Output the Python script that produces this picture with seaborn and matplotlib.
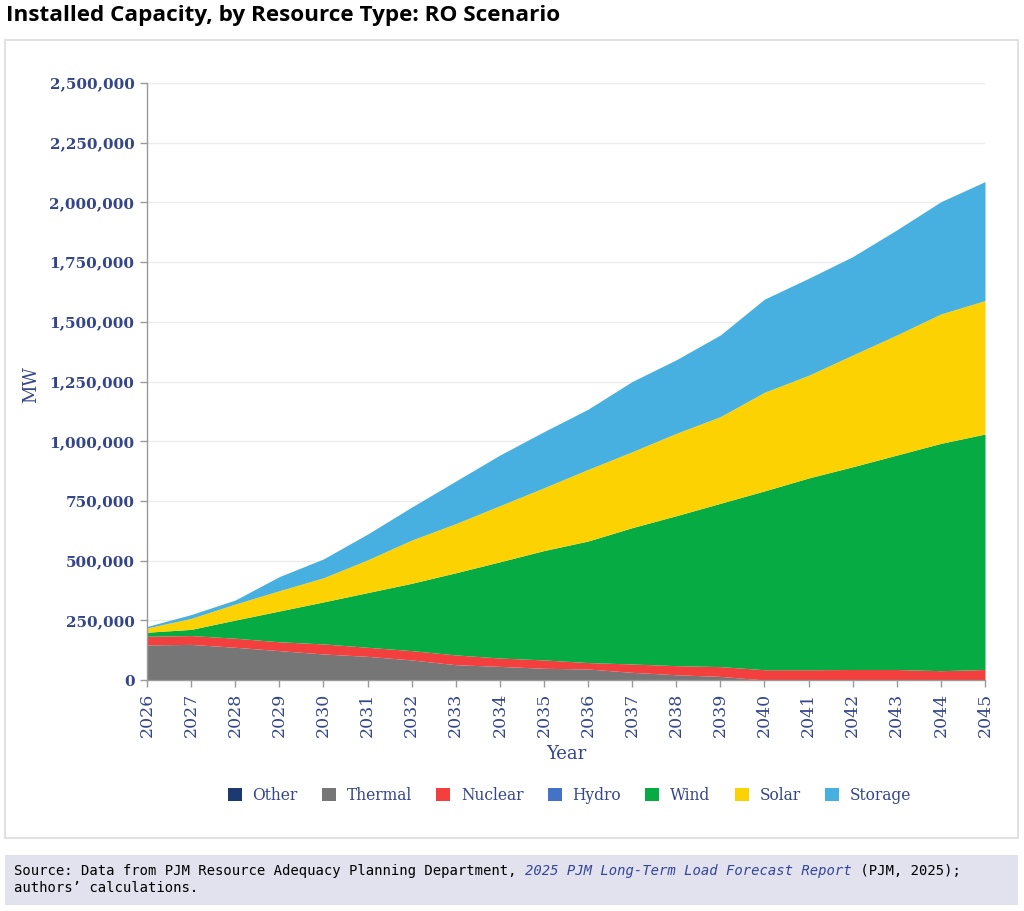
import pandas as pd
import numpy as np
import seaborn as sns
import matplotlib.pyplot as plt
from matplotlib.patches import Patch, Rectangle
from matplotlib.ticker import FuncFormatter

# values (MW per resource, stacked)
years = list(range(2026, 2046))
other = [0] * 20
thermal = [147000, 149000, 137000, 123000, 109000, 99000, 84000, 64000, 57000, 49000,
           46000, 32000, 22000, 15000, 0, 0, 0, 0, 0, 0]
nuclear = [36000, 37000, 38000, 37000, 42000, 38000, 39000, 41000, 35000, 35000,
           27000, 35000, 38000, 41000, 43000, 43000, 44000, 44000, 39000, 44000]
hydro = [0] * 20
wind = [17000, 26000, 76000, 129000, 176000, 229000, 282000, 344000, 403000, 458000,
        509000, 571000, 628000, 684000, 749000, 803000, 849000, 898000, 952000, 986000]
solar = [18000, 46000, 67000, 85000, 101000, 137000, 181000, 206000, 235000, 263000,
         300000, 318000, 345000, 363000, 413000, 430000, 468000, 503000, 542000, 559000]
storage = [6000, 16000, 17000, 59000, 79000, 108000, 138000, 178000, 212000, 235000,
           252000, 294000, 308000, 342000, 390000, 406000, 412000, 440000, 470000, 498000]

resources = ["Other", "Thermal", "Nuclear", "Hydro", "Wind", "Solar", "Storage"]
colors = ["#1c3a70", "#767676", "#f43f3f", "#4472c4", "#07ab44", "#fdd203", "#48b0e0"]
series = [other, thermal, nuclear, hydro, wind, solar, storage]

df = pd.concat([pd.DataFrame({"year": years, "resource": r, "mw": v})
                for r, v in zip(resources, series)], ignore_index=True)

txt = "#34458a"
sns.set_theme(style="white")
plt.rcParams["font.family"] = ["DejaVu Serif"]

fig = plt.figure(figsize=(10.24, 9.11), dpi=100)
fig.patch.set_facecolor("white")

# panel frame and source box (kept behind the axes)
fig.patches.append(Rectangle((5 / 1024, 1 - 838 / 911), 1013 / 1024, 798 / 911,
                             transform=fig.transFigure, facecolor="white",
                             edgecolor="#dcdcdc", lw=1.2, zorder=-10))
fig.patches.append(Rectangle((5 / 1024, 1 - 905 / 911), 1013 / 1024, 50 / 911,
                             transform=fig.transFigure, facecolor="#e2e2ef",
                             edgecolor="none", zorder=-10))

ax = fig.add_axes([147 / 1024, 1 - 680 / 911, 838 / 1024, 597 / 911])
ax.set_facecolor("white")

# seaborn stacks the last hue level at the bottom, so reverse the order
sns.histplot(data=df, x="year", weights="mw", hue="resource",
             hue_order=resources[::-1], palette=dict(zip(resources, colors)),
             multiple="stack", element="poly", discrete=True,
             linewidth=0, alpha=1, legend=False, ax=ax)

ax.set_xlim(2026, 2045)
ax.set_ylim(0, 2500000)
ax.set_xticks(years)
ax.set_xticklabels([str(y) for y in years], rotation=90, fontsize=12.5, color=txt)
ax.set_yticks(np.arange(0, 2500001, 250000))
ax.yaxis.set_major_formatter(FuncFormatter(lambda v, p: f"{v:,.0f}"))
for lab in ax.get_yticklabels():
    lab.set_fontsize(11)
    lab.set_color(txt)
    lab.set_fontweight("semibold")
ax.tick_params(axis="both", which="major", length=5, width=1, color="#9a9a9a",
               direction="out", left=True, bottom=True, pad=4)
ax.grid(axis="y", color="#ececec", lw=1)
ax.set_axisbelow(True)
for s in ["top", "right"]:
    ax.spines[s].set_visible(False)
for s in ["left", "bottom"]:
    ax.spines[s].set_color("#9a9a9a")
    ax.spines[s].set_linewidth(1)
    ax.spines[s].set_zorder(5)

ax.set_xlabel("Year", fontsize=13, color=txt, labelpad=6)
ax.set_ylabel("MW", fontsize=13, color=txt)
ax.yaxis.set_label_coords(-0.128, 0.495)

handles = [Patch(facecolor=c, edgecolor="none") for c in colors]
fig.legend(handles, resources, loc="center", bbox_to_anchor=(0.556, 1 - 795 / 911),
           ncol=7, frameon=False, fontsize=11.2, labelcolor=txt,
           handlelength=0.9, handleheight=0.9, handletextpad=0.7, columnspacing=1.55)

fig.text(6 / 1024, 1 - 16 / 911, "Installed Capacity, by Resource Type: RO Scenario",
         fontsize=16.2, fontweight="bold", family=["Open Sans", "DejaVu Sans"],
         color="black", va="center", ha="left")

# source note, mixed styles placed one after another
mono = ["DejaVu Sans Mono"]
y1 = 1 - 875 / 911
y2 = 1 - 892 / 911
t1 = fig.text(14 / 1024, y1, "Source: Data from PJM Resource Adequacy Planning Department, ",
              family=mono, fontsize=10, color="black", va="baseline")
fig.canvas.draw()
r = fig.canvas.get_renderer()
x2 = t1.get_window_extent(r).x1 / fig.bbox.width
t2 = fig.text(x2, y1, "2025 PJM Long-Term Load Forecast Report", family=mono,
              fontsize=10, style="italic", color="#34459a", va="baseline")
x3 = t2.get_window_extent(r).x1 / fig.bbox.width
fig.text(x3, y1, " (PJM, 2025);", family=mono, fontsize=10, color="black", va="baseline")
fig.text(14 / 1024, y2, "authors\u2019 calculations.", family=mono, fontsize=10,
         color="black", va="baseline")

fig.savefig("out.png", dpi=100, facecolor="white")
